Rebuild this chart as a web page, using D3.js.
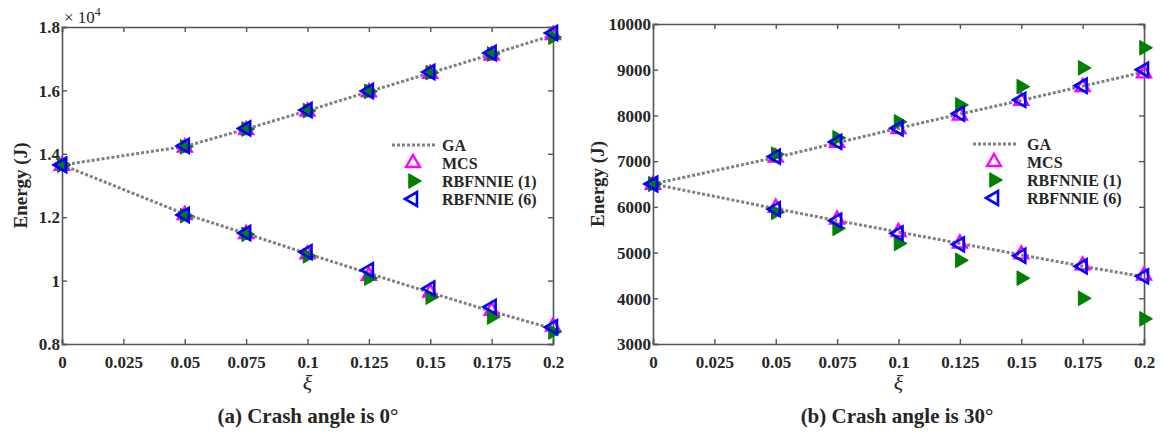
<!DOCTYPE html>
<html>
<head>
<meta charset="utf-8">
<script src="https://cdn.jsdelivr.net/npm/d3@7"></script>
<style>
body { margin: 0; background: #fff; }
text { font-family: "Liberation Serif", "Times New Roman", serif; font-weight: bold; fill: #262626; }
</style>
</head>
<body>
<script>
// xi values shared by both panels
var xi = [0, 0.05, 0.075, 0.1, 0.125, 0.15, 0.175, 0.2];
var xTicks = [0, 0.025, 0.05, 0.075, 0.1, 0.125, 0.15, 0.175, 0.2];
var xTickLabels = ["0", "0.025", "0.05", "0.075", "0.1", "0.125", "0.15", "0.175", "0.2"];

// panel (a), energy in units of 1e4 J
var gaUpA = [1.365, 1.423, 1.478, 1.536, 1.596, 1.655, 1.714, 1.774];
var gaLowA = [1.365, 1.21, 1.148, 1.085, 1.023, 0.962, 0.903, 0.848];
var mcsUpA = [1.362, 1.42, 1.475, 1.533, 1.594, 1.652, 1.71, 1.775];
var mcsLowA = [1.362, 1.207, 1.147, 1.083, 1.015, 0.962, 0.905, 0.855];
var rbf1UpA = [1.365, 1.422, 1.478, 1.536, 1.597, 1.656, 1.715, 1.768];
var rbf1LowA = [1.365, 1.205, 1.146, 1.078, 1.008, 0.948, 0.885, 0.838];
var rbf6UpA = [1.365, 1.425, 1.48, 1.538, 1.598, 1.658, 1.718, 1.781];
var rbf6LowA = [1.365, 1.207, 1.15, 1.09, 1.033, 0.975, 0.917, 0.853];
var yTicksA = [0.8, 1, 1.2, 1.4, 1.6, 1.8];
var yTickLabelsA = ["0.8", "1", "1.2", "1.4", "1.6", "1.8"];

// panel (b), energy in J
var gaUpB = [6500, 7080, 7400, 7720, 8030, 8330, 8640, 8950];
var gaLowB = [6500, 5960, 5700, 5450, 5200, 4950, 4700, 4470];
var mcsUpB = [6480, 7080, 7400, 7700, 8000, 8320, 8620, 8920];
var mcsLowB = [6480, 5980, 5720, 5450, 5200, 4960, 4720, 4500];
var rbf1UpB = [6500, 7150, 7510, 7860, 8230, 8630, 9040, 9480];
var rbf1LowB = [6500, 5880, 5530, 5200, 4830, 4440, 4000, 3550];
var rbf6UpB = [6500, 7100, 7420, 7720, 8040, 8340, 8650, 9000];
var rbf6LowB = [6500, 5950, 5700, 5420, 5180, 4930, 4700, 4480];
var yTicksB = [3000, 4000, 5000, 6000, 7000, 8000, 9000, 10000];
var yTickLabelsB = ["3000", "4000", "5000", "6000", "7000", "8000", "9000", "10000"];

var legendNames = ["GA", "MCS", "RBFNNIE (1)", "RBFNNIE (6)"];

var svg = d3.select("body").append("svg")
    .attr("width", 1168)
    .attr("height", 433);

function triPath(r, angle) {
    // equilateral triangle pointing in direction angle (deg, 0 = up)
    var pts = [];
    for (var k = 0; k < 3; k++) {
        var a = (angle + k * 120) * Math.PI / 180;
        pts.push([r * Math.sin(a), -r * Math.cos(a)]);
    }
    return "M" + pts.map(function (p) { return p[0].toFixed(2) + "," + p[1].toFixed(2); }).join("L") + "Z";
}

var markers = {
    mcs: { d: triPath(8, 0), fill: "none", stroke: "#ff00ff", sw: 2.4 },
    rbf1: { d: triPath(8.5, 90), fill: "#008000", stroke: "#008000", sw: 1 },
    rbf6: { d: triPath(8, -90), fill: "none", stroke: "#0000ff", sw: 2.6 }
};

function panel(cfg) {
    var g = svg.append("g");
    var x = d3.scaleLinear().domain([0, 0.2]).range([cfg.left, cfg.right]);
    var y = d3.scaleLinear().domain(cfg.ydom).range([cfg.bottom, cfg.top]);

    var xAxis = d3.axisBottom(x).tickValues(xTicks).tickSize(-5).tickPadding(12)
        .tickFormat(function (d, i) { return xTickLabels[i]; });
    var yAxis = d3.axisLeft(y).tickValues(cfg.yticks).tickSize(-5).tickPadding(2)
        .tickFormat(function (d, i) { return cfg.ylabels[i]; });

    var gx = g.append("g").attr("transform", "translate(0," + cfg.bottom + ")").call(xAxis);
    var gy = g.append("g").attr("transform", "translate(" + cfg.left + ",0)").call(yAxis);
    var gxt = g.append("g").attr("transform", "translate(0," + cfg.top + ")")
        .call(d3.axisTop(x).tickValues(xTicks).tickSize(-5).tickFormat(""));
    var gyr = g.append("g").attr("transform", "translate(" + cfg.right + ",0)")
        .call(d3.axisRight(y).tickValues(cfg.yticks).tickSize(-5).tickFormat(""));

    [gx, gy, gxt, gyr].forEach(function (a) {
        a.select(".domain").attr("stroke", "#555").attr("stroke-width", 1.6);
        a.selectAll(".tick line").attr("stroke", "#555").attr("stroke-width", 1.4);
        a.selectAll("text").style("font-size", "17px").attr("fill", "#262626")
            .style("font-family", "'Liberation Serif', serif").style("font-weight", "bold");
    });
    gy.selectAll("text").attr("dy", "0.34em");

    // GA lines
    var line = d3.line().x(function (d, i) { return x(xi[i]); }).y(function (d) { return y(d); });
    [cfg.gaUp, cfg.gaLow].forEach(function (s) {
        g.append("path").datum(s).attr("d", line)
            .attr("fill", "none").attr("stroke", "#808080")
            .attr("stroke-width", 3).attr("stroke-dasharray", "3,2");
    });

    // markers
    [["mcs", cfg.mcsUp, cfg.mcsLow], ["rbf1", cfg.rbf1Up, cfg.rbf1Low], ["rbf6", cfg.rbf6Up, cfg.rbf6Low]].forEach(function (m) {
        var st = markers[m[0]];
        [m[1], m[2]].forEach(function (s) {
            g.selectAll(null).data(s).enter().append("path")
                .attr("d", st.d)
                .attr("transform", function (d, i) { return "translate(" + x(xi[i]) + "," + y(d) + ")"; })
                .attr("fill", st.fill).attr("stroke", st.stroke).attr("stroke-width", st.sw)
                .attr("stroke-linejoin", "miter");
        });
    });

    // legend
    var lg = g.append("g").attr("transform", "translate(" + cfg.legX + "," + cfg.legY + ")");
    lg.append("line").attr("x1", 0).attr("x2", 43).attr("y1", 0).attr("y2", 0)
        .attr("stroke", "#808080").attr("stroke-width", 3).attr("stroke-dasharray", "3,2");
    ["mcs", "rbf1", "rbf6"].forEach(function (k, i) {
        var st = markers[k];
        lg.append("path").attr("d", st.d)
            .attr("transform", "translate(21," + (18 * (i + 1)) + ")")
            .attr("fill", st.fill).attr("stroke", st.stroke).attr("stroke-width", st.sw);
    });
    legendNames.forEach(function (n, i) {
        lg.append("text").attr("x", cfg.legTextDx).attr("y", 18 * i).attr("dy", "0.35em")
            .style("font-size", "16px").text(n);
    });

    // axis titles
    g.append("text")
        .attr("transform", "translate(" + cfg.ylabX + "," + ((cfg.top + cfg.bottom) / 2) + ") rotate(-90)")
        .attr("text-anchor", "middle").attr("dy", "0.35em").style("font-size", "19px").text("Energy (J)");
    g.append("text").attr("x", x(0.1)).attr("y", 390)
        .attr("text-anchor", "middle").style("font-size", "22px")
        .style("font-style", "italic").style("font-weight", "normal").text("\u03be");
    g.append("text").attr("x", cfg.capX).attr("y", 423)
        .attr("text-anchor", "middle").style("font-size", "21px").text(cfg.caption);
    return g;
}

var ga = panel({
    left: 62, right: 553, top: 27, bottom: 344, ydom: [0.8, 1.8],
    yticks: yTicksA, ylabels: yTickLabelsA,
    gaUp: gaUpA, gaLow: gaLowA, mcsUp: mcsUpA, mcsLow: mcsLowA,
    rbf1Up: rbf1UpA, rbf1Low: rbf1LowA, rbf6Up: rbf6UpA, rbf6Low: rbf6LowA,
    legX: 392, legY: 145, legTextDx: 50, ylabX: 20, capX: 308,
    caption: "(a) Crash angle is 0\u00b0"
});

// exponent label for panel (a)
var ex = ga.append("text").attr("x", 64).attr("y", 23).style("font-size", "17px").style("font-weight", "normal");
ex.append("tspan").text("\u00d7 10");
ex.append("tspan").attr("dy", -7).style("font-size", "12px").text("4");

panel({
    left: 653, right: 1144, top: 24, bottom: 344, ydom: [3000, 10000],
    yticks: yTicksB, ylabels: yTickLabelsB,
    gaUp: gaUpB, gaLow: gaLowB, mcsUp: mcsUpB, mcsLow: mcsLowB,
    rbf1Up: rbf1UpB, rbf1Low: rbf1LowB, rbf6Up: rbf6UpB, rbf6Low: rbf6LowB,
    legX: 973, legY: 144, legTextDx: 54, ylabX: 597, capX: 897,
    caption: "(b) Crash angle is 30\u00b0"
});
</script>
</body>
</html>
